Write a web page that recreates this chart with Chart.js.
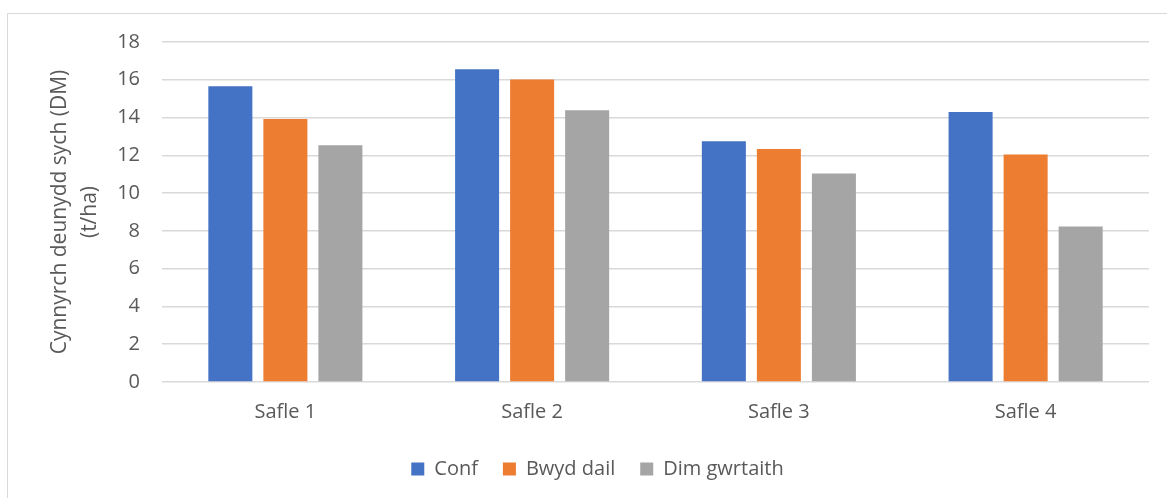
<!DOCTYPE html>
<html>
<head>
<meta charset="utf-8">
<script src="https://cdn.jsdelivr.net/npm/chart.js@4"></script>
<style>
  body { margin: 0; background: #fff; }
  #frame { position: absolute; left: 7px; top: 13px; width: 1300px; height: 600px; border-top: 1px solid #d9d9d9; border-left: 1px solid #d9d9d9; }
  #wrap { position: absolute; left: 0; top: 0; width: 1167px; height: 498px; }
</style>
</head>
<body>
<div id="frame"></div>
<div id="wrap"><canvas id="myChart"></canvas></div>
<script>
const categories = ["Safle 1", "Safle 2", "Safle 3", "Safle 4"];
const conf = [15.66, 16.56, 12.74, 14.3];
const bwydDail = [13.93, 16.01, 12.34, 12.05];
const dimGwrtaith = [12.53, 14.39, 11.04, 8.23];
const yTicks = [0, 2, 4, 6, 8, 10, 12, 14, 16, 18];

const fontFamily = "'Open Sans', 'Noto Sans', sans-serif";
const textColor = "#595959";

const context = document.getElementById("myChart").getContext("2d");
const config = {
  type: "bar",
  data: {
    labels: categories,
    datasets: [
      { label: "Conf", data: conf, backgroundColor: "#4472C4" },
      { label: "Bwyd dail", data: bwydDail, backgroundColor: "#ED7D31" },
      { label: "Dim gwrtaith", data: dimGwrtaith, backgroundColor: "#A5A5A5" },
    ],
  },
  options: {
    responsive: true,
    maintainAspectRatio: false,
    animation: false,
    layout: {
      // left padding pushes the centred legend right, y axis width keeps plot at x=162
      padding: { top: 42, right: 18, bottom: 9, left: 46 },
    },
    datasets: {
      bar: {
        categoryPercentage: 0.669,
        barPercentage: 0.8,
      },
    },
    plugins: {
      legend: {
        position: "bottom",
        labels: {
          boxWidth: 13,
          boxHeight: 13,
          padding: 25,
          color: textColor,
          font: { family: fontFamily, size: 20 },
        },
      },
      tooltip: { enabled: false },
    },
    scales: {
      x: {
        grid: { display: false, drawTicks: false },
        border: { display: false },
        ticks: {
          color: textColor,
          padding: 18,
          font: { family: fontFamily, size: 20 },
        },
        afterFit: function (axis) {
          axis.height = 52;
        },
      },
      y: {
        min: 0,
        max: 18,
        afterBuildTicks: function (axis) {
          axis.ticks = yTicks.map((v) => ({ value: v }));
        },
        grid: { color: "#d9d9d9", lineWidth: 1.5, drawTicks: false },
        border: { display: false },
        ticks: {
          color: textColor,
          padding: 22,
          font: { family: fontFamily, size: 20 },
        },
        title: {
          display: true,
          text: ["Cynnyrch deunydd sych (DM)", "(t/ha)"],
          color: textColor,
          padding: { top: -1, bottom: 0 },
          font: { family: fontFamily, size: 21, lineHeight: 1.43 },
        },
        afterFit: function (axis) {
          axis.width = 116;
        },
      },
    },
  },
};

const myChart = new Chart(context, config);
</script>
</body>
</html>
